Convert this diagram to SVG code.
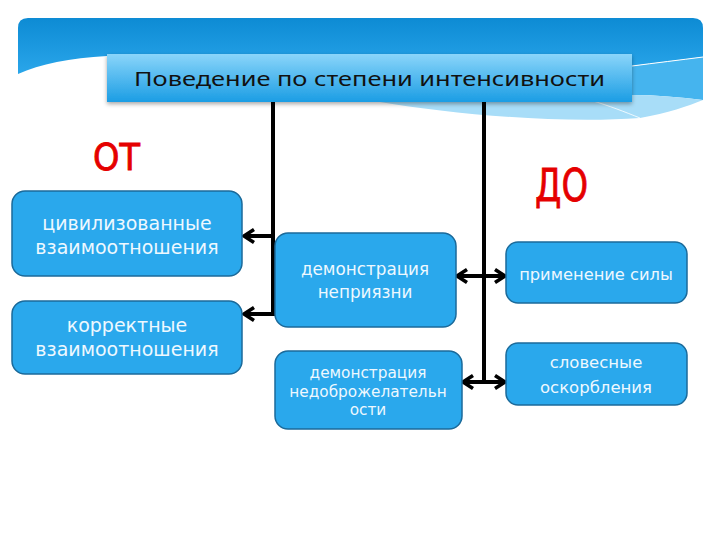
<svg xmlns="http://www.w3.org/2000/svg" width="720" height="540" viewBox="0 0 720 540">
  <defs>
    <linearGradient id="bandGrad" x1="0" y1="0" x2="0" y2="1">
      <stop offset="0" stop-color="#0d8bd4"/>
      <stop offset="1" stop-color="#2aa6ea"/>
    </linearGradient>
    <linearGradient id="titleGrad" x1="0" y1="0" x2="0" y2="1">
      <stop offset="0" stop-color="#8ad5fa"/>
      <stop offset="1" stop-color="#1b9de4"/>
    </linearGradient>
    <filter id="shadow" x="-5%" y="-20%" width="110%" height="150%">
      <feDropShadow dx="0" dy="2" stdDeviation="2" flood-color="#000" flood-opacity="0.35"/>
    </filter>
    <marker id="arrow" markerUnits="userSpaceOnUse" markerWidth="18" markerHeight="18" viewBox="0 0 18 18" refX="12" refY="9" orient="auto-start-reverse">
      <path d="M4,2.5 L14,9 L4,15.5" fill="none" stroke="#000" stroke-width="3.6" stroke-linejoin="miter"/>
    </marker>
    <style>
      .box { fill: #2aa8ec; stroke: #1b6a9a; stroke-width: 1.5; }
      .btxt { font-family: "DejaVu Sans", Verdana, sans-serif; fill: #eef8ff; text-anchor: middle; }
      .conn { stroke: #000; stroke-width: 4; fill: none; }
      .red { font-family: "DejaVu Sans", Verdana, sans-serif; fill: #e50000; stroke: #e50000; stroke-width: 0.8; }
    </style>
  </defs>

  <rect x="0" y="0" width="720" height="540" fill="#ffffff"/>

  <!-- header band -->
  <g id="header">
    <path d="M18,28 Q18,18 28,18 H693 Q703,18 703,28 V57 C680,60 655,63 632,66 L107,56 C70,58 40,64 18,74 Z" fill="url(#bandGrad)"/>
    <path d="M632,66 C655,63 680,60 703,57 V100 C680,97 655,95 632,95 Z" fill="#45b4ee"/>
    <path d="M380,102 C450,114 560,124 640,118 C668,113 688,106 703,100 C680,97 655,95 632,95 V102 Z" fill="#a8ddf8"/>
    <path d="M632,66 C655,63 680,60 703,57" fill="none" stroke="#ffffff" stroke-width="1"/>
    <path d="M590,100 C610,106 625,112 640,118" fill="none" stroke="#ffffff" stroke-width="0.8"/>
  </g>

  <g id="title">
    <rect x="107" y="54" width="525" height="48" fill="url(#titleGrad)" filter="url(#shadow)"/>
    <text x="369.5" y="86" font-family="'Noto Sans', 'Open Sans', sans-serif" font-size="20" fill="#111111" text-anchor="middle" textLength="471" lengthAdjust="spacingAndGlyphs">Поведение по степени интенсивности</text>
  </g>

  <g id="label-ot">
    <text class="red" x="93" y="170" font-size="37" textLength="47" lengthAdjust="spacingAndGlyphs">ОТ</text>
  </g>
  <g id="label-do">
    <text class="red" x="535" y="201" font-size="45" textLength="53" lengthAdjust="spacingAndGlyphs">ДО</text>
  </g>

  <!-- connectors -->
  <g id="connectors">
    <line class="conn" x1="273" y1="102" x2="273" y2="316"/>
    <line class="conn" x1="484" y1="102" x2="484" y2="384"/>
    <line class="conn" x1="273" y1="236" x2="246" y2="236" marker-end="url(#arrow)"/>
    <line class="conn" x1="273" y1="314" x2="246" y2="314" marker-end="url(#arrow)"/>
    <line class="conn" x1="459" y1="276" x2="503" y2="276" marker-start="url(#arrow)" marker-end="url(#arrow)"/>
    <line class="conn" x1="465" y1="382" x2="503" y2="382" marker-start="url(#arrow)" marker-end="url(#arrow)"/>
  </g>

  <g id="node-civil">
    <rect class="box" x="12" y="191" width="230" height="85" rx="13"/>
    <text class="btxt" x="127" y="230" font-size="19">цивилизованные</text>
    <text class="btxt" x="127" y="254" font-size="19">взаимоотношения</text>
  </g>
  <g id="node-correct">
    <rect class="box" x="12" y="301" width="230" height="73" rx="13"/>
    <text class="btxt" x="127" y="332" font-size="19">корректные</text>
    <text class="btxt" x="127" y="356" font-size="19">взаимоотношения</text>
  </g>
  <g id="node-dislike">
    <rect class="box" x="275" y="233" width="181" height="94" rx="13"/>
    <text class="btxt" x="365" y="275" font-size="16.8">демонстрация</text>
    <text class="btxt" x="365" y="298" font-size="16.8">неприязни</text>
  </g>
  <g id="node-malevolence">
    <rect class="box" x="275" y="351" width="187" height="78" rx="13"/>
    <text class="btxt" x="368" y="378" font-size="15.3">демонстрация</text>
    <text class="btxt" x="368" y="397" font-size="15.3">недоброжелательн</text>
    <text class="btxt" x="368" y="415" font-size="15.3">ости</text>
  </g>
  <g id="node-force">
    <rect class="box" x="506" y="242" width="181" height="61" rx="12"/>
    <text class="btxt" x="596" y="280" font-size="16.3">применение силы</text>
  </g>
  <g id="node-insult">
    <rect class="box" x="506" y="343" width="181" height="62" rx="12"/>
    <text class="btxt" x="596" y="368" font-size="16.5">словесные</text>
    <text class="btxt" x="596" y="393" font-size="16.5">оскорбления</text>
  </g>
</svg>
